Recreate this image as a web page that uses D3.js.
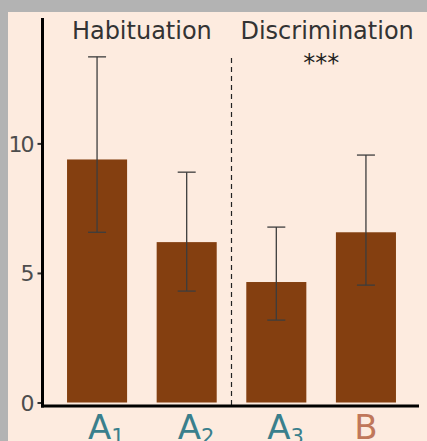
<!DOCTYPE html>
<html><head><meta charset="utf-8">
<script src="https://cdn.jsdelivr.net/npm/d3@7"></script>
<style>html,body{margin:0;padding:0;background:#b3b3b3;}svg{display:block;}</style>
</head><body>
<script>
const categories = ["A1","A2","A3","B"];
const labelMain = ["A","A","A","B"];
const labelSub = ["1","2","3",""];
const means = [9.38, 6.19, 4.65, 6.57];
const errLow = [6.57, 4.30, 3.18, 4.53];
const errHigh = [13.34, 8.89, 6.77, 9.55];
const yTicks = [0, 5, 10];
const phases = ["Habituation", "Discrimination"];
const sigText = "***";

const W = 427, H = 441;
const svg = d3.select("body").append("svg").attr("width", W).attr("height", H);
svg.append("rect").attr("x", 8).attr("y", 12).attr("width", W - 8).attr("height", H - 12).attr("fill", "#fdebdf");

const x = d3.scaleBand().domain(categories).range([44, 419]).paddingInner(0.33).paddingOuter(0.257);
const y = d3.scaleLinear().domain([0, 14.84]).range([402.5, 18]);

const font = "DejaVu Sans, sans-serif";

// bars
svg.selectAll("rect.bar").data(categories).enter().append("rect")
  .attr("x", d => x(d)).attr("width", x.bandwidth())
  .attr("y", (d, i) => y(means[i])).attr("height", (d, i) => y(0) - y(means[i]))
  .attr("fill", "#843f10");

// error bars
const capW = 18;
const eg = svg.append("g").attr("stroke", "#3d3d3d").attr("stroke-width", 1.3);
categories.forEach((c, i) => {
  const cx = x(c) + x.bandwidth() / 2;
  eg.append("line").attr("x1", cx).attr("x2", cx).attr("y1", y(errLow[i])).attr("y2", y(errHigh[i]));
  eg.append("line").attr("x1", cx - capW / 2).attr("x2", cx + capW / 2).attr("y1", y(errLow[i])).attr("y2", y(errLow[i]));
  eg.append("line").attr("x1", cx - capW / 2).attr("x2", cx + capW / 2).attr("y1", y(errHigh[i])).attr("y2", y(errHigh[i]));
});

// dashed divider
const divX = (x("A2") + x.bandwidth() + x("A3")) / 2;
svg.append("line").attr("x1", divX).attr("x2", divX).attr("y1", 58).attr("y2", 405)
  .attr("stroke", "#222").attr("stroke-width", 1.2).attr("stroke-dasharray", "5,4");

// y axis
const yAxis = d3.axisLeft(y).tickValues(yTicks).tickSize(5).tickPadding(5);
const ya = svg.append("g").attr("transform", "translate(42.5,0)").call(yAxis);
ya.select(".domain").remove();
ya.selectAll(".tick line").attr("stroke", "#333").attr("stroke-width", 2);
ya.selectAll(".tick text").attr("fill", "#4d4d4d").style("font-family", font).style("font-size", "22px").attr("letter-spacing", "-2").attr("dy", "0.36em");

svg.append("line").attr("x1", 42.5).attr("x2", 42.5).attr("y1", 18).attr("y2", 407.5).attr("stroke", "#000").attr("stroke-width", 3);
svg.append("line").attr("x1", 41).attr("x2", 419).attr("y1", 406).attr("y2", 406).attr("stroke", "#000").attr("stroke-width", 3);

// x labels
const xcol = ["#3a7f8c", "#3a7f8c", "#3a7f8c", "#c0775a"];
categories.forEach((c, i) => {
  const cx = x(c) + x.bandwidth() / 2;
  const t = svg.append("text").attr("y", 439).attr("fill", xcol[i]).style("font-family", font).style("font-size", "34px");
  if (labelSub[i]) {
    t.attr("x", cx - 9).attr("text-anchor", "start");
    t.append("tspan").text(labelMain[i]);
    t.append("tspan").attr("dy", 5).style("font-size", "21px").text(labelSub[i]);
  } else {
    t.attr("x", cx).attr("text-anchor", "middle").text(labelMain[i]);
  }
});

// phase titles
const hx = (x("A1") + x("A2") + x.bandwidth()) / 2;
const dx = (x("A3") + x("B") + x.bandwidth()) / 2;
svg.append("text").attr("x", hx).attr("y", 39).attr("text-anchor", "middle").attr("fill", "#333")
  .style("font-family", font).style("font-size", "24px").text(phases[0]);
svg.append("text").attr("x", dx + 6).attr("y", 39).attr("text-anchor", "middle").attr("fill", "#333")
  .style("font-family", font).style("font-size", "24px").text(phases[1]);
svg.append("text").attr("x", dx).attr("y", 71).attr("text-anchor", "middle").attr("fill", "#222")
  .style("font-family", font).style("font-size", "24px").text(sigText);
</script>
</body></html>
